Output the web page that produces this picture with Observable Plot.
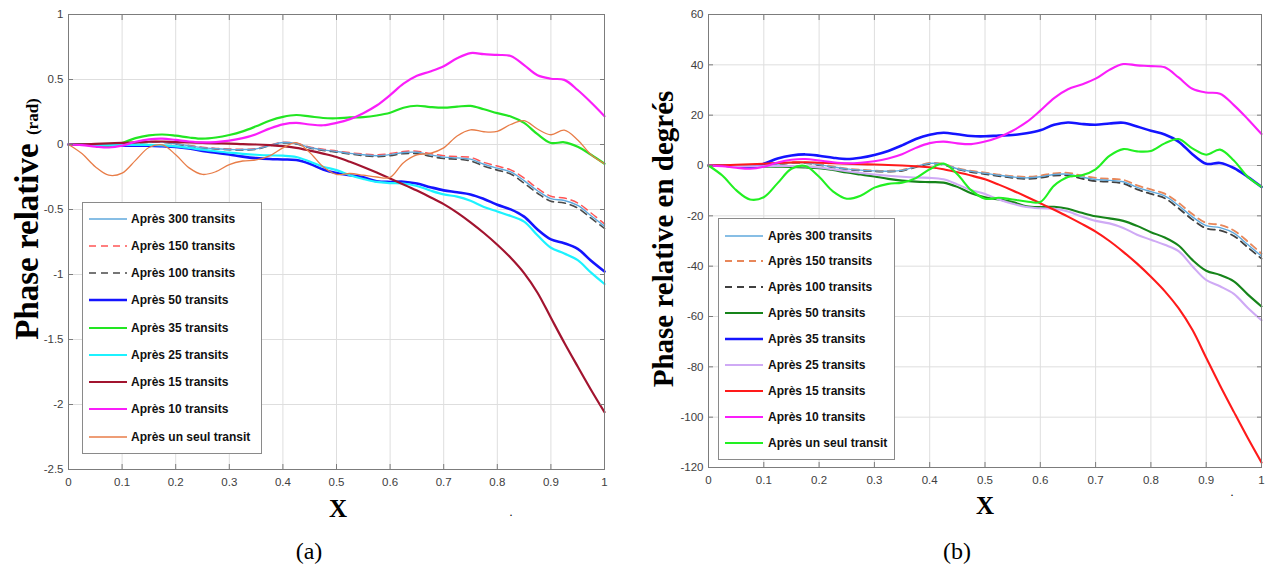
<!DOCTYPE html>
<html><head><meta charset="utf-8">
<script src="https://cdn.jsdelivr.net/npm/d3@7"></script>
<script src="https://cdn.jsdelivr.net/npm/@observablehq/plot@0.6"></script>
<style>
body{margin:0;background:#fff;}
#root{position:relative;width:1273px;height:574px;overflow:hidden;background:#fff;}
.panel{position:absolute;top:0;}
.lab{position:absolute;white-space:nowrap;font-family:"Liberation Serif","Times New Roman",serif;color:#000;line-height:1;}
.rot{transform:translate(-50%,-50%) rotate(-90deg);font-weight:bold;}
.ctr{transform:translate(-50%,-50%);}
.legend{position:absolute;background:#fff;border:1px solid #8a8a8a;box-sizing:border-box;}
.legend .row{position:absolute;left:0;height:0;}
.legend .row svg{position:absolute;overflow:visible;}
.legend .row span{position:absolute;font-family:"Liberation Sans",Arial,sans-serif;font-weight:bold;font-size:12px;color:#111;white-space:nowrap;transform:translateY(-50%);line-height:1;}
</style></head>
<body><div id="root"></div>
<script>
// ---------- data ----------
const X = [0,0.025,0.05,0.075,0.1,0.125,0.15,0.175,0.2,0.225,0.25,0.275,0.3,0.325,0.35,0.375,0.4,0.425,0.45,0.475,0.5,0.525,0.55,0.575,0.6,0.625,0.65,0.675,0.7,0.725,0.75,0.775,0.8,0.825,0.85,0.875,0.9,0.925,0.95,0.975,1];
const seriesNames = ["Après 300 transits","Après 150 transits","Après 100 transits","Après 50 transits","Après 35 transits","Après 25 transits","Après 15 transits","Après 10 transits","Après un seul transit"];
const xTicks = [0,0.1,0.2,0.3,0.4,0.5,0.6,0.7,0.8,0.9,1];
const yTicksRad = [-2.5,-2,-1.5,-1,-0.5,0,0.5,1];
const yTicksDeg = [-120,-100,-80,-60,-40,-20,0,20,40,60];

// (a) phase relative in rad
const rad300 = [0,0,-0.001,-0.003,0.001,0.010,0.019,0.019,0.006,-0.010,-0.024,-0.032,-0.038,-0.039,-0.034,-0.008,0.015,0.008,-0.023,-0.041,-0.054,-0.068,-0.079,-0.086,-0.078,-0.062,-0.060,-0.080,-0.097,-0.103,-0.113,-0.152,-0.182,-0.211,-0.278,-0.356,-0.417,-0.431,-0.469,-0.548,-0.628];
const rad150 = [0,0,0,-0.002,0.002,0.010,0.021,0.021,0.009,-0.007,-0.021,-0.030,-0.035,-0.037,-0.031,-0.005,0.017,0.010,-0.019,-0.037,-0.049,-0.063,-0.073,-0.079,-0.070,-0.054,-0.051,-0.070,-0.086,-0.093,-0.099,-0.138,-0.166,-0.195,-0.258,-0.337,-0.398,-0.412,-0.450,-0.527,-0.611];
const rad100 = [0,0,-0.002,-0.003,0,0.009,0.017,0.017,0.003,-0.012,-0.026,-0.035,-0.040,-0.042,-0.037,-0.010,0.012,0.005,-0.026,-0.045,-0.059,-0.073,-0.086,-0.093,-0.086,-0.070,-0.070,-0.091,-0.108,-0.113,-0.126,-0.166,-0.197,-0.227,-0.297,-0.375,-0.436,-0.450,-0.489,-0.567,-0.646];
const rad50 = [0,0,-0.003,-0.007,-0.009,-0.009,-0.010,-0.014,-0.019,-0.031,-0.049,-0.063,-0.077,-0.093,-0.105,-0.112,-0.115,-0.119,-0.148,-0.192,-0.220,-0.236,-0.253,-0.283,-0.288,-0.286,-0.300,-0.328,-0.353,-0.367,-0.384,-0.419,-0.463,-0.499,-0.555,-0.654,-0.730,-0.759,-0.803,-0.894,-0.977];
const rad35 = [0,0,-0.009,-0.012,0.012,0.049,0.070,0.077,0.068,0.054,0.045,0.054,0.073,0.101,0.140,0.183,0.213,0.227,0.216,0.204,0.202,0.208,0.211,0.223,0.244,0.283,0.298,0.288,0.283,0.291,0.297,0.271,0.241,0.215,0.166,0.079,0.012,0.017,-0.017,-0.079,-0.148];
const rad25 = [0,0,-0.003,-0.005,-0.005,-0.003,-0.003,-0.007,-0.014,-0.026,-0.040,-0.052,-0.063,-0.072,-0.079,-0.084,-0.086,-0.096,-0.131,-0.171,-0.197,-0.236,-0.265,-0.288,-0.297,-0.300,-0.319,-0.354,-0.384,-0.401,-0.433,-0.480,-0.515,-0.550,-0.593,-0.698,-0.794,-0.838,-0.890,-0.986,-1.073];
const rad15 = [0,0.002,0.005,0.009,0.012,0.017,0.021,0.023,0.019,0.016,0.012,0.009,0.007,0.003,0,-0.005,-0.012,-0.026,-0.047,-0.070,-0.096,-0.133,-0.173,-0.216,-0.262,-0.307,-0.354,-0.405,-0.459,-0.524,-0.599,-0.681,-0.771,-0.871,-0.989,-1.140,-1.333,-1.525,-1.708,-1.888,-2.059];
const rad10 = [0,-0.005,-0.016,-0.023,-0.009,0.021,0.040,0.045,0.035,0.023,0.016,0.019,0.030,0.049,0.079,0.122,0.155,0.166,0.154,0.148,0.166,0.195,0.241,0.300,0.380,0.468,0.529,0.562,0.602,0.663,0.703,0.695,0.689,0.681,0.611,0.532,0.506,0.497,0.419,0.323,0.218];
const rad1 = [0,-0.070,-0.171,-0.236,-0.220,-0.122,-0.023,-0.003,-0.079,-0.180,-0.230,-0.209,-0.154,-0.127,-0.119,-0.087,-0.026,0.014,-0.061,-0.171,-0.230,-0.223,-0.236,-0.250,-0.253,-0.140,-0.080,-0.068,-0.026,0.066,0.113,0.098,0.101,0.154,0.183,0.119,0.075,0.110,0.035,-0.079,-0.148];

// (b) phase relative in degrees
const deg300 = [0,0,-0.05,-0.15,0.05,0.55,1.1,1.1,0.35,-0.55,-1.35,-1.85,-2.15,-2.25,-1.95,-0.45,0.85,0.45,-1.3,-2.35,-3.1,-3.9,-4.55,-4.9,-4.45,-3.55,-3.45,-4.6,-5.55,-5.9,-6.45,-8.7,-10.4,-12.1,-15.9,-20.4,-23.9,-24.7,-26.9,-31.4,-36.0];
const deg150 = [0,0,0,-0.1,0.1,0.6,1.2,1.2,0.5,-0.4,-1.2,-1.7,-2.0,-2.1,-1.8,-0.3,1.0,0.6,-1.1,-2.1,-2.8,-3.6,-4.2,-4.5,-4.0,-3.1,-2.9,-4.0,-4.9,-5.3,-5.7,-7.9,-9.5,-11.2,-14.8,-19.3,-22.8,-23.6,-25.8,-30.2,-35.0];
const deg100 = [0,0,-0.1,-0.2,0,0.5,1.0,1.0,0.2,-0.7,-1.5,-2.0,-2.3,-2.4,-2.1,-0.6,0.7,0.3,-1.5,-2.6,-3.4,-4.2,-4.9,-5.3,-4.9,-4.0,-4.0,-5.2,-6.2,-6.5,-7.2,-9.5,-11.3,-13.0,-17.0,-21.5,-25.0,-25.8,-28.0,-32.5,-37.0];
const deg50 = [0,0,-0.2,-0.4,-0.5,-0.5,-0.6,-0.8,-1.1,-1.8,-2.8,-3.6,-4.4,-5.3,-6.0,-6.4,-6.6,-6.8,-8.5,-11,-12.6,-13.5,-14.5,-16.2,-16.5,-16.4,-17.2,-18.8,-20.2,-21.0,-22.0,-24.0,-26.5,-28.6,-31.8,-37.5,-41.8,-43.5,-46,-51.2,-56];
const deg35 = [0,0,-0.5,-0.7,0.7,2.8,4.0,4.4,3.9,3.1,2.6,3.1,4.2,5.8,8.0,10.5,12.2,13.0,12.4,11.7,11.6,11.9,12.1,12.8,14.0,16.2,17.1,16.5,16.2,16.7,17.0,15.5,13.8,12.3,9.5,4.5,0.7,1.0,-1.0,-4.5,-8.5];
const deg25 = [0,0,-0.2,-0.3,-0.3,-0.2,-0.2,-0.4,-0.8,-1.5,-2.3,-3.0,-3.6,-4.1,-4.5,-4.8,-4.9,-5.5,-7.5,-9.8,-11.3,-13.5,-15.2,-16.5,-17.0,-17.2,-18.3,-20.3,-22.0,-23.0,-24.8,-27.5,-29.5,-31.5,-34.0,-40.0,-45.5,-48,-51,-56.5,-61.5];
const deg15 = [0,0.1,0.3,0.5,0.7,1.0,1.2,1.3,1.1,0.9,0.7,0.5,0.4,0.2,0,-0.3,-0.7,-1.5,-2.7,-4.0,-5.5,-7.6,-9.9,-12.4,-15,-17.6,-20.3,-23.2,-26.3,-30.0,-34.3,-39.0,-44.2,-49.9,-56.7,-65.3,-76.4,-87.4,-97.9,-108.2,-118];
const deg10 = [0,-0.3,-0.9,-1.3,-0.5,1.2,2.3,2.6,2.0,1.3,0.9,1.1,1.7,2.8,4.5,7.0,8.9,9.5,8.8,8.5,9.5,11.2,13.8,17.2,21.8,26.8,30.3,32.2,34.5,38.0,40.3,39.8,39.5,39.0,35.0,30.5,29.0,28.5,24.0,18.5,12.5];
const deg1 = [0,-4,-9.8,-13.5,-12.6,-7,-1.3,-0.2,-4.5,-10.3,-13.2,-12,-8.8,-7.3,-6.8,-5,-1.5,0.8,-3.5,-9.8,-13.2,-12.8,-13.5,-14.3,-14.5,-8.0,-4.6,-3.9,-1.5,3.8,6.5,5.6,5.8,8.8,10.5,6.8,4.3,6.3,2.0,-4.5,-8.5];

// ---------- styles ----------
const stylesA = [
  {color:"#5fa8dc", width:1.4},
  {color:"#ff5555", width:1.5, dash:"7,5"},
  {color:"#4a4a4a", width:1.6, dash:"7,5"},
  {color:"#1414ff", width:2.6},
  {color:"#22e622", width:2.2},
  {color:"#1cf2ff", width:2.2},
  {color:"#a2142f", width:2.2},
  {color:"#fa1efa", width:2.2},
  {color:"#e87d48", width:1.3}
];
const stylesB = [
  {color:"#5fa8dc", width:1.4},
  {color:"#e8875a", width:1.8, dash:"7,5"},
  {color:"#404040", width:1.8, dash:"7,5"},
  {color:"#16841a", width:2.1},
  {color:"#1414ff", width:2.6},
  {color:"#cfaaf5", width:2.1},
  {color:"#ff1a1a", width:2.1},
  {color:"#fa1efa", width:2.1},
  {color:"#22f022", width:2.1}
];
const valuesA = [rad300,rad150,rad100,rad50,rad35,rad25,rad15,rad10,rad1];
const valuesB = [deg300,deg150,deg100,deg50,deg35,deg25,deg15,deg10,deg1];
const drawOrder = [2,1,0,3,4,5,6,7,8];

const root = document.getElementById("root");
const FRAME = "#7c7c7c";

function makePanel(opts) {
  const marks = [
    Plot.gridX(xTicks, {stroke:"#dedede", strokeOpacity:1}),
    Plot.gridY(opts.yTicks, {stroke:"#dedede", strokeOpacity:1})
  ];
  drawOrder.forEach(k => {
    const vals = opts.values[k];
    const st = opts.styles[k];
    const rows = X.map((x, i) => ({x, y: vals[i], s: seriesNames[k]}));
    marks.push(Plot.line(rows, {x:"x", y:"y", stroke: st.color, strokeWidth: st.width, strokeDasharray: st.dash, curve:"catmull-rom"}));
  });
  marks.push(Plot.frame({stroke: FRAME, strokeWidth: 1}));
  marks.push(Plot.axisX(xTicks, {anchor:"bottom", tickSize:0, tickPadding:8, tickFormat: d => String(d), label:null}));
  marks.push(Plot.axisY(opts.yTicks, {anchor:"left", tickSize:0, tickPadding:5, tickFormat: d => String(d), label:null}));
  for (const a of ["bottom","top"]) marks.push(Plot.axisX(xTicks, {anchor:a, tickSize:-5, tickFormat: () => "", label:null, stroke: FRAME}));
  for (const a of ["left","right"]) marks.push(Plot.axisY(opts.yTicks, {anchor:a, tickSize:-5, tickFormat: () => "", label:null, stroke: FRAME}));
  const svg = Plot.plot({
    width: opts.width, height: 574,
    marginLeft: opts.ml, marginRight: opts.mr, marginTop: 14, marginBottom: opts.mb,
    x: {domain:[0,1]},
    y: {domain: opts.yDomain},
    style: {fontFamily:"'Liberation Sans', Arial, sans-serif", fontSize:"11.5px", color:"#404040", background:"transparent", overflow:"visible"},
    marks
  });
  const wrap = document.createElement("div");
  wrap.className = "panel";
  wrap.style.left = opts.left + "px";
  wrap.appendChild(svg);
  root.appendChild(wrap);
}

makePanel({left:0, width:636, ml:68, mr:32, mb:105, yDomain:[-2.5,1], yTicks:yTicksRad, values:valuesA, styles:stylesA});
makePanel({left:640, width:633, ml:68, mr:12, mb:107, yDomain:[-120,60], yTicks:yTicksDeg, values:valuesB, styles:stylesB});

function makeLegend(o, styles) {
  const box = document.createElement("div");
  box.className = "legend";
  Object.assign(box.style, {left:o.left+"px", top:o.top+"px", width:o.width+"px", height:o.height+"px"});
  seriesNames.forEach((name, k) => {
    const st = styles[k];
    const row = document.createElement("div");
    row.className = "row";
    row.style.top = (o.first + k*o.step) + "px";
    row.innerHTML = `<svg width="${o.lineW}" height="1" style="left:${o.lineX}px;top:0"><line x1="0" y1="0" x2="${o.lineW}" y2="0" stroke="${st.color}" stroke-width="${st.width}" ${st.dash ? `stroke-dasharray="${st.dash}"` : ""}/></svg><span style="left:${o.textX}px">${name}</span>`;
    box.appendChild(row);
  });
  root.appendChild(box);
}
makeLegend({left:82, top:202, width:180, height:252, first:15.5, step:27.25, lineX:6, lineW:38, textX:48}, stylesA);
makeLegend({left:718, top:218, width:177, height:242, first:16.5, step:25.95, lineX:6, lineW:38, textX:49}, stylesB);

function addLabel(html, cls, x, y, size, extra) {
  const d = document.createElement("div");
  d.className = "lab " + cls;
  d.style.left = x + "px"; d.style.top = y + "px"; d.style.fontSize = size + "px";
  if (extra) Object.assign(d.style, extra);
  d.innerHTML = html;
  root.appendChild(d);
}
addLabel('Phase relative <span style="font-size:17px">(rad)</span>', "rot", 27, 219, 33);
addLabel('Phase relative en degrés', "rot", 663, 239, 29);
addLabel('X', "ctr", 338, 508, 25, {fontWeight:"bold"});
addLabel('X', "ctr", 985, 505, 25, {fontWeight:"bold"});
addLabel('(a)', "ctr", 309, 551, 24);
addLabel('(b)', "ctr", 957, 551, 24);
addLabel('.', "ctr", 511, 512, 12);
addLabel('.', "ctr", 1232, 492, 12);
</script></body></html>
